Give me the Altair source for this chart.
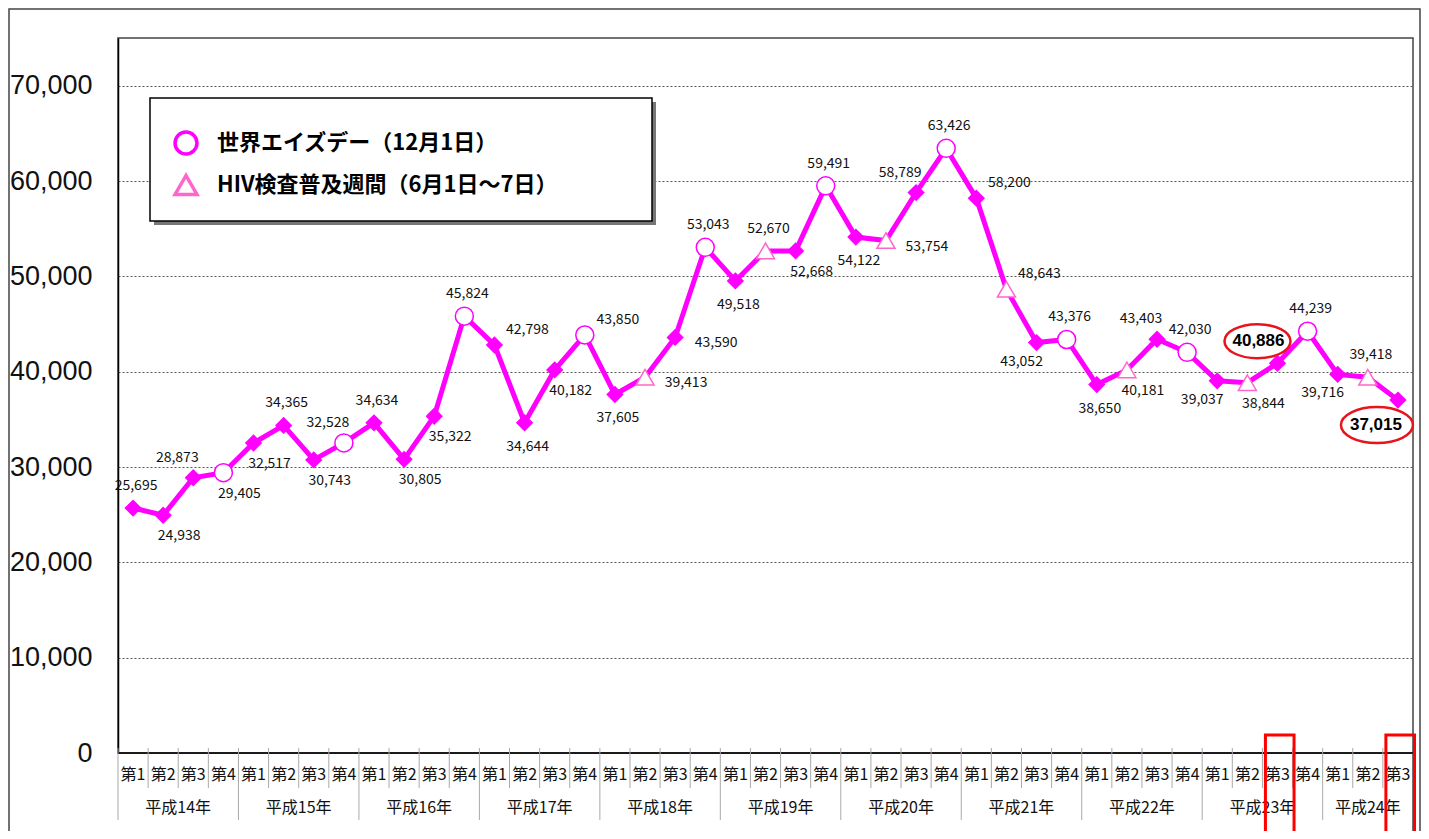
import altair as alt
import pandas as pd

# ---------------- data ----------------
YEARS = ["平成14年", "平成15年", "平成16年", "平成17年", "平成18年", "平成19年",
         "平成20年", "平成21年", "平成22年", "平成23年", "平成24年"]
QUARTERS_PER_YEAR = [4, 4, 4, 4, 4, 4, 4, 4, 4, 4, 3]
QUARTER_NAMES = ["第1", "第2", "第3", "第4"]

VALUES = [25695, 24938, 28873, 29405,
          32517, 34365, 30743, 32528,
          34634, 30805, 35322, 45824,
          42798, 34644, 40182, 43850,
          37605, 39413, 43590, 53043,
          49518, 52670, 52668, 59491,
          54122, 53754, 58789, 63426,
          58200, 48643, 43052, 43376,
          38650, 40181, 43403, 42030,
          39037, 38844, 40886, 44239,
          39716, 39418, 37015]

# marker kind: d = ordinary quarter, o = 世界エイズデー, t = HIV検査普及週間
EVENTS = ["d", "d", "d", "o",
          "d", "d", "d", "o",
          "d", "d", "d", "o",
          "d", "d", "d", "o",
          "d", "t", "d", "o",
          "d", "t", "d", "o",
          "d", "t", "d", "o",
          "d", "t", "d", "o",
          "d", "t", "d", "o",
          "d", "t", "d", "o",
          "d", "t", "d"]

LEGEND_AIDS = "世界エイズデー（12月1日）"
LEGEND_HIV = "HIV検査普及週間（6月1日～7日）"

# points whose value is circled in red
HIGHLIGHT = [38, 42]

# ---------------- style ----------------
# label placement relative to the point
LABEL_POS = ["t", "br", "tl", "br",
             "br", "t", "br", "tl",
             "t", "br", "br", "t",
             "tr", "b", "br", "tr",
             "b", "r", "r", "t",
             "b", "t", "br", "t",
             "b", "r", "tl", "t",
             "tr", "tr", "bl", "t",
             "b", "br", "tl", "t",
             "bl", "br", "tl", "t",
             "bl", "t", "bl"]
OFFSETS = {"t": (3, -22), "b": (3, 24), "tl": (-16, -20), "tr": (33, -15),
           "bl": (-15, 19), "br": (16, 21), "r": (41, 6)}
HL_OFFSETS = {"tl": (-19, -22), "bl": (-22, 25)}

FONT = "Noto Sans CJK JP"
MAGENTA = "#FF00FF"
PINK = "#FF66CC"
W, H = 1295, 715

# ---------------- tables ----------------
rows = []
i = 0
for y, nq in zip(YEARS, QUARTERS_PER_YEAR):
    for q in range(nq):
        ev = EVENTS[i]
        rows.append({
            "idx": i, "year": y, "quarter": QUARTER_NAMES[q], "value": VALUES[i],
            "event": ev,
            "legend_event": LEGEND_AIDS if ev == "o" else (LEGEND_HIV if ev == "t" else ""),
            "pos": LABEL_POS[i], "hl": i in HIGHLIGHT,
        })
        i += 1
df = pd.DataFrame(rows)

year_rows = []
start = 0
for y, nq in zip(YEARS, QUARTERS_PER_YEAR):
    year_rows.append({"year": y, "center": start + (nq - 1) / 2, "first": start})
    start += nq
years_df = pd.DataFrame(year_rows)

year_bounds = [r["first"] - 0.5 for r in year_rows] + [len(VALUES) - 0.5]
quarter_bounds = [k - 0.5 for k in range(len(VALUES)) if (k - 0.5) not in year_bounds]
ybound_df = pd.DataFrame({"b": year_bounds[:-1]})
yend_df = pd.DataFrame({"b": year_bounds[-1:]})
qbound_df = pd.DataFrame({"b": quarter_bounds})

xscale = alt.Scale(domain=[-0.5, len(VALUES) - 0.5], nice=False, zero=False)
yscale = alt.Scale(domain=[0, 75000], nice=False)
yaxis = alt.Axis(values=list(range(0, 70001, 10000)), format=",d", title=None,
                 labelFont="Liberation Sans", labelFontSize=27, labelColor="#111",
                 labelPadding=26, ticks=False, domainColor="#000", domainWidth=1.5,
                 gridColor="#555", gridDash=[2, 2], gridWidth=1)


def X(field):
    return alt.X(field, scale=xscale, axis=None)


def Y(field="value:Q"):
    return alt.Y(field, scale=yscale, axis=yaxis)


one = pd.DataFrame({"a": [0]})
layers = []

# outer frame
layers.append(alt.Chart(one).mark_rect(fill=None, stroke="#444", strokeWidth=1.5).encode(
    x=alt.value(-109), x2=alt.value(W + 7), y=alt.value(-29), y2=alt.value(H + 120)))

# legend box with shadow
layers.append(alt.Chart(one).mark_rect(fill="#777", stroke=None).encode(
    x=alt.value(36), x2=alt.value(538), y=alt.value(64), y2=alt.value(187)))
layers.append(alt.Chart(one).mark_rect(fill="white", stroke="#000", strokeWidth=1.5).encode(
    x=alt.value(32), x2=alt.value(534), y=alt.value(60), y2=alt.value(183)))

# baseline at zero
layers.append(alt.Chart(pd.DataFrame({"value": [0]})).mark_rule(color="#000", strokeWidth=1.5).encode(
    y=Y()))

# category table separators
layers.append(alt.Chart(qbound_df).mark_rule(color="#aaa", strokeWidth=1).encode(
    x=X("b:Q"), y=alt.value(H - 5), y2=alt.value(H + 35)))
layers.append(alt.Chart(ybound_df).mark_rule(color="#aaa", strokeWidth=1).encode(
    x=X("b:Q"), y=alt.value(H - 5), y2=alt.value(H + 67)))
layers.append(alt.Chart(yend_df).mark_rule(color="#444", strokeWidth=1.5).encode(
    x=X("b:Q"), y=alt.value(H), y2=alt.value(H + 120)))

# quarter and year labels
layers.append(alt.Chart(df).mark_text(font=FONT, fontSize=16, color="#111", baseline="middle").encode(
    x=X("idx:Q"), y=alt.value(H + 22), text="quarter:N"))
layers.append(alt.Chart(years_df).mark_text(font=FONT, fontSize=16, color="#111", baseline="middle").encode(
    x=X("center:Q"), y=alt.value(H + 55), text="year:N"))

# line
layers.append(alt.Chart(df).mark_line(color=MAGENTA, strokeWidth=5).encode(
    x=X("idx:Q"), y=Y()))

# ordinary diamonds
layers.append(alt.Chart(df).transform_filter("datum.event == 'd'").mark_point(
    shape="diamond", filled=True, color=MAGENTA, size=300, opacity=1).encode(
    x=X("idx:Q"), y=Y()))

# event markers with legend
layers.append(alt.Chart(df).transform_filter("datum.event != 'd'").mark_point(
    filled=True, fill="white", strokeWidth=1.5, size=324, opacity=1).encode(
    x=X("idx:Q"), y=Y(),
    shape=alt.Shape("legend_event:N",
                    scale=alt.Scale(domain=[LEGEND_AIDS, LEGEND_HIV], range=["circle", "triangle-up"]),
                    legend=alt.Legend(title=None, orient="none", legendX=55, legendY=92,
                                      labelFont=FONT, labelFontSize=22, labelFontWeight="bold",
                                      labelColor="#000", symbolSize=480, symbolStrokeWidth=3.5,
                                      symbolFillColor="white", symbolStrokeColor=PINK,
                                      rowPadding=7, labelOffset=18, padding=0, labelLimit=600)),
    stroke=alt.Stroke("legend_event:N",
                      scale=alt.Scale(domain=[LEGEND_AIDS, LEGEND_HIV], range=[MAGENTA, PINK]),
                      legend=None)))

# value labels
for code, (dx, dy) in OFFSETS.items():
    sub = df[(df["pos"] == code) & (~df["hl"])]
    if sub.empty:
        continue
    layers.append(alt.Chart(df).transform_filter(
        f"datum.pos == '{code}' && !datum.hl").mark_text(
        font=FONT, fontSize=14, color="#111", dx=dx, dy=dy, baseline="middle").encode(
        x=X("idx:Q"), y=Y(), text=alt.Text("value:Q", format=",d")))

for code, (dx, dy) in HL_OFFSETS.items():
    layers.append(alt.Chart(df).transform_filter(
        f"datum.pos == '{code}' && datum.hl").mark_text(
        font="Liberation Sans", fontSize=17, fontWeight="bold", color="#000",
        dx=dx, dy=dy, baseline="middle").encode(
        x=X("idx:Q"), y=Y(), text=alt.Text("value:Q", format=",d")))

# red ellipses around highlighted values
ELLIPSE = {"tl": "M-53,-22A33,17 0 1,1 13,-22A33,17 0 1,1 -53,-22Z",
           "bl": "M-57,25A36,18 0 1,1 15,25A36,18 0 1,1 -57,25Z"}
for code, path in ELLIPSE.items():
    layers.append(alt.Chart(df).transform_filter(
        f"datum.hl && datum.pos == '{code}'").mark_point(
        shape=path, size=4, filled=False, stroke="#E8141B", strokeWidth=2.5, opacity=1).encode(
        x=X("idx:Q"), y=Y()))

# red frames around highlighted quarter labels
layers.append(alt.Chart(df).transform_filter("datum.hl").transform_calculate(
    x1="datum.idx - 0.4", x2="datum.idx + 0.55").mark_rect(
    fill=None, stroke="#FF0000", strokeWidth=3).encode(
    x=X("x1:Q"), x2="x2:Q", y=alt.value(H - 18), y2=alt.value(H + 120)))

chart = alt.layer(*layers).properties(
    width=W, height=H,
    padding={"left": 110, "top": 30, "right": 8, "bottom": 78},
    autosize=alt.AutoSizeParams(type="none"),
).configure_view(stroke="#444", strokeWidth=1.5)

chart.save("out.html", embed_options={"renderer": "svg", "actions": False})
